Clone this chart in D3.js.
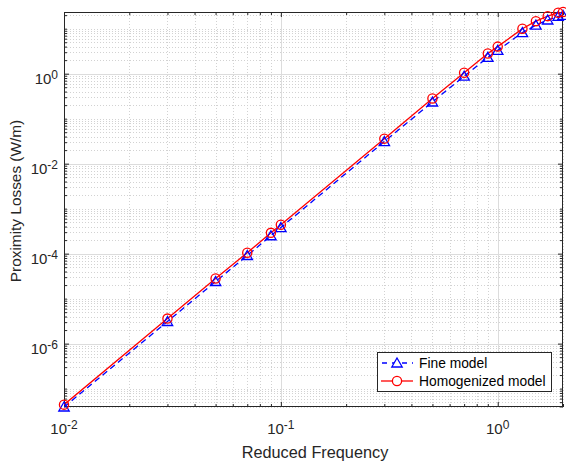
<!DOCTYPE html>
<html>
<head>
<meta charset="utf-8">
<script src="https://cdn.jsdelivr.net/npm/d3@7"></script>
<style>
  html, body { margin: 0; padding: 0; background: #ffffff; }
  svg { display: block; font-family: "Liberation Sans", Arial, Helvetica, sans-serif; }
</style>
</head>
<body>
<svg id="chart" width="566" height="465"></svg>
<script>
// ---- data ----
const freq = [0.01, 0.03, 0.05, 0.07, 0.09, 0.1, 0.3, 0.5, 0.7, 0.9, 1.0, 1.3, 1.5, 1.7, 1.9, 2.0];
const fineModel = [3.9e-8, 3.1e-6, 2.4e-5, 9.1e-5, 2.5e-4, 3.8e-4, 0.031, 0.235, 0.88, 2.3, 3.3, 8.2, 12, 15.6, 18.7, 19.8];
const homogenizedModel = [4.4e-8, 3.6e-6, 2.8e-5, 1.05e-4, 2.9e-4, 4.4e-4, 0.036, 0.28, 1.05, 2.8, 4.0, 10, 14.7, 19, 22.7, 23.5];
const seriesNames = ["Fine model", "Homogenized model"];
const xTickValues = [0.01, 0.1, 1];
const xTickExps = ["-2", "-1", "0"];
const yTickValues = [1e-6, 1e-4, 1e-2, 1];
const yTickExps = ["-6", "-4", "-2", "0"];
const xLabel = "Reduced Frequency";
const yLabel = "Proximity Losses (W/m)";

// ---- layout ----
const L = 64, R = 563, T = 12, B = 407;
const svg = d3.select("#chart");
const axisColor = "#262626";

const allY = fineModel.concat(homogenizedModel);
const x = d3.scaleLog().domain([d3.min(freq), d3.max(freq)]).range([L, R]);
const y = d3.scaleLog().domain([d3.min(allY), d3.max(allY)]).range([B, T]);

// clip
svg.append("defs").append("clipPath").attr("id", "clip")
  .append("rect").attr("x", L).attr("y", T).attr("width", R - L).attr("height", B - T);

const gGrid = svg.append("g");
const isMajor = (v, arr) => arr.some(t => Math.abs(Math.log10(v) - Math.log10(t)) < 1e-6);
const xMinor = x.ticks().filter(v => !isMajor(v, xTickValues));
const yMinor = y.ticks().filter(v => !isMajor(v, yTickValues));

// minor grid (dotted)
gGrid.selectAll("line.xm").data(xMinor).enter().append("line")
  .attr("x1", d => Math.round(x(d)) + 0.5).attr("x2", d => Math.round(x(d)) + 0.5)
  .attr("y1", T).attr("y2", B)
  .attr("stroke", "#d2d2d2").attr("stroke-width", 1).attr("stroke-dasharray", "1,2");
gGrid.selectAll("line.ym").data(yMinor).enter().append("line")
  .attr("y1", d => Math.round(y(d)) + 0.5).attr("y2", d => Math.round(y(d)) + 0.5)
  .attr("x1", L).attr("x2", R)
  .attr("stroke", "#d2d2d2").attr("stroke-width", 1).attr("stroke-dasharray", "1,2");
// major grid (solid)
gGrid.selectAll("line.xM").data(xTickValues).enter().append("line")
  .attr("x1", d => Math.round(x(d)) + 0.5).attr("x2", d => Math.round(x(d)) + 0.5)
  .attr("y1", T).attr("y2", B)
  .attr("stroke", "#dcdcdc").attr("stroke-width", 1);
gGrid.selectAll("line.yM").data(yTickValues).enter().append("line")
  .attr("y1", d => Math.round(y(d)) + 0.5).attr("y2", d => Math.round(y(d)) + 0.5)
  .attr("x1", L).attr("x2", R)
  .attr("stroke", "#dcdcdc").attr("stroke-width", 1);

// axes via d3 axis generators (ticks pointing inward, on all four sides)
function styleAxis(g) {
  g.select(".domain").remove();
  g.selectAll("line").attr("stroke", axisColor).attr("stroke-width", 1);
  g.selectAll("text").remove();
}
const majLen = 5, minLen = 3;
svg.append("g").attr("transform", `translate(0,${B})`)
  .call(d3.axisBottom(x).tickValues(xTickValues).tickSize(-majLen).tickFormat("")).call(styleAxis);
svg.append("g").attr("transform", `translate(0,${B})`)
  .call(d3.axisBottom(x).tickValues(xMinor).tickSize(-minLen).tickFormat("")).call(styleAxis);
svg.append("g").attr("transform", `translate(0,${T})`)
  .call(d3.axisTop(x).tickValues(xTickValues).tickSize(-majLen).tickFormat("")).call(styleAxis);
svg.append("g").attr("transform", `translate(0,${T})`)
  .call(d3.axisTop(x).tickValues(xMinor).tickSize(-minLen).tickFormat("")).call(styleAxis);
svg.append("g").attr("transform", `translate(${L},0)`)
  .call(d3.axisLeft(y).tickValues(yTickValues).tickSize(-majLen).tickFormat("")).call(styleAxis);
svg.append("g").attr("transform", `translate(${L},0)`)
  .call(d3.axisLeft(y).tickValues(yMinor).tickSize(-minLen).tickFormat("")).call(styleAxis);
svg.append("g").attr("transform", `translate(${R},0)`)
  .call(d3.axisRight(y).tickValues(yTickValues).tickSize(-majLen).tickFormat("")).call(styleAxis);
svg.append("g").attr("transform", `translate(${R},0)`)
  .call(d3.axisRight(y).tickValues(yMinor).tickSize(-minLen).tickFormat("")).call(styleAxis);

// box
svg.append("rect").attr("x", L + 0.5).attr("y", T + 0.5).attr("width", R - L - 1).attr("height", B - T - 1)
  .attr("fill", "none").attr("stroke", axisColor).attr("stroke-width", 1);

// tick labels
const tickColor = "#262626";
xTickValues.forEach((v, i) => {
  const t = svg.append("text").attr("x", x(v)).attr("y", B + 27)
    .attr("text-anchor", "middle").attr("fill", tickColor).attr("font-size", 15);
  t.append("tspan").text("10");
  t.append("tspan").attr("dy", -5).attr("font-size", 12).text(xTickExps[i]);
});
yTickValues.forEach((v, i) => {
  const t = svg.append("text").attr("x", L - 6).attr("y", y(v) + 10)
    .attr("text-anchor", "end").attr("fill", tickColor).attr("font-size", 15);
  t.append("tspan").text("10");
  t.append("tspan").attr("dy", -5).attr("font-size", 12).text(yTickExps[i]);
});

// axis labels
svg.append("text").attr("x", 315).attr("y", 458).attr("text-anchor", "middle")
  .attr("fill", tickColor).attr("font-size", 16.3).text(xLabel);
svg.append("text").attr("transform", "translate(21,201) rotate(-90)").attr("text-anchor", "middle")
  .attr("fill", tickColor).attr("font-size", 15.4).text(yLabel);

// series
const blue = "#0000ff", red = "#ff0000";
const lineGen = arr => d3.line().x((d, i) => x(freq[i])).y(d => y(d))(arr);
const plotG = svg.append("g").attr("clip-path", "url(#clip)");
plotG.append("path").attr("d", lineGen(fineModel)).attr("fill", "none")
  .attr("stroke", blue).attr("stroke-width", 1.3).attr("stroke-dasharray", "6,4");
plotG.append("path").attr("d", lineGen(homogenizedModel)).attr("fill", "none")
  .attr("stroke", red).attr("stroke-width", 1.3);

const triPath = "M0,-5 L5.2,4 L-5.2,4 Z";
svg.append("g").selectAll("path").data(fineModel).enter().append("path")
  .attr("transform", (d, i) => `translate(${x(freq[i])},${y(d)})`)
  .attr("d", triPath).attr("fill", "none").attr("stroke", blue).attr("stroke-width", 1.3);
svg.append("g").selectAll("circle").data(homogenizedModel).enter().append("circle")
  .attr("cx", (d, i) => x(freq[i])).attr("cy", d => y(d)).attr("r", 4.6)
  .attr("fill", "none").attr("stroke", red).attr("stroke-width", 1.3);

// legend
const lg = svg.append("g");
lg.append("rect").attr("x", 377.5).attr("y", 352.5).attr("width", 174).attr("height", 39)
  .attr("fill", "#ffffff").attr("stroke", axisColor).attr("stroke-width", 1);
const rows = [363, 381];
// fine model sample
lg.append("line").attr("x1", 381).attr("x2", 413).attr("y1", rows[0]).attr("y2", rows[0])
  .attr("stroke", blue).attr("stroke-width", 1.3).attr("stroke-dasharray", "5,5").attr("stroke-dashoffset", -1);
lg.append("path").attr("transform", `translate(397,${rows[0]})`).attr("d", triPath)
  .attr("fill", "#ffffff").attr("stroke", blue).attr("stroke-width", 1.3);
// homogenized sample
lg.append("line").attr("x1", 381).attr("x2", 413).attr("y1", rows[1]).attr("y2", rows[1])
  .attr("stroke", red).attr("stroke-width", 1.3);
lg.append("circle").attr("cx", 397).attr("cy", rows[1]).attr("r", 4.6)
  .attr("fill", "#ffffff").attr("stroke", red).attr("stroke-width", 1.3);
seriesNames.forEach((n, i) => {
  lg.append("text").attr("x", 419).attr("y", rows[i] + 5).attr("font-size", 13.8)
    .attr("fill", "#000000").text(n);
});
</script>
</body>
</html>
